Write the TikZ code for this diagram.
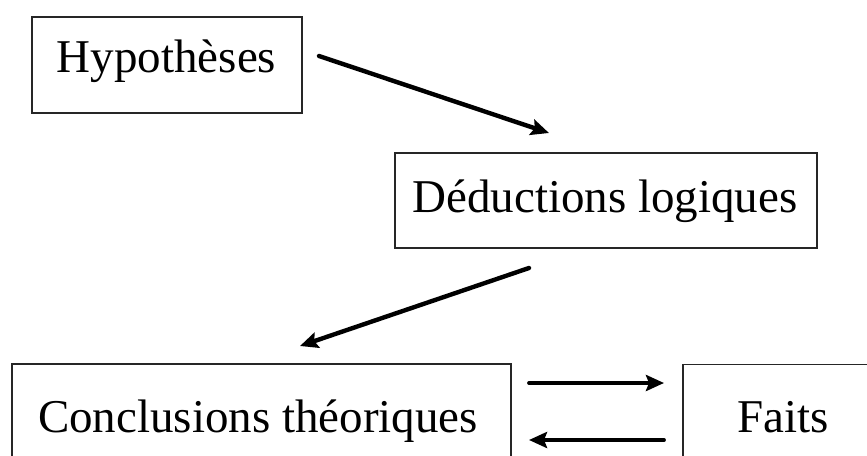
\documentclass[tikz,border=0pt]{standalone}
\usepackage{fontspec}
\setmainfont{Liberation Serif}
\usetikzlibrary{arrows.meta}
\begin{document}
\begin{tikzpicture}[x=1pt,y=-1pt,
  box/.style={draw=black!85, line width=1.4pt, inner sep=0pt},
  lbl/.style={anchor=base, inner sep=0pt, font=\fontsize{47}{50}\selectfont},
  conn/.style={line width=4.4pt, line cap=round, -{Stealth[length=18pt,width=16pt,inset=3pt]}}]
\useasboundingbox (0,0) rectangle (867,455);
\clip (0,0) rectangle (867,455);
% boxes
\node[box, minimum width=270pt, minimum height=96pt] (hyp) at (167,65) {};
\node[box, minimum width=422pt, minimum height=95pt] (ded) at (606,200.5) {};
\node[box, minimum width=499pt, minimum height=106pt] (concl) at (261.5,417) {};
\node[box, minimum width=200pt, minimum height=106pt] (faits) at (783,417.5) {};
% labels
\node[lbl] (thyp) at (166.5,72) {Hypothèses};
\node[lbl] (tded) at (605,212) {Déductions logiques};
\node[lbl] (tconcl) at (258,432) {Conclusions théoriques};
\node[lbl] (tfaits) at (783,432) {Faits};
% connector ends
\coordinate (a1s) at (319,56);
\coordinate (a1e) at (549,133);
\coordinate (a2s) at (529,268);
\coordinate (a2e) at (300,346);
\coordinate (a3s) at (529,383);
\coordinate (a3e) at (664,383);
\coordinate (a4s) at (664,440);
\coordinate (a4e) at (529,440);
\draw[conn] (a1s) -- (a1e);
\draw[conn] (a2s) -- (a2e);
\draw[conn, line width=3.8pt] (a3s) -- (a3e);
\draw[conn, line width=3.8pt] (a4s) -- (a4e);
\end{tikzpicture}
\end{document}
